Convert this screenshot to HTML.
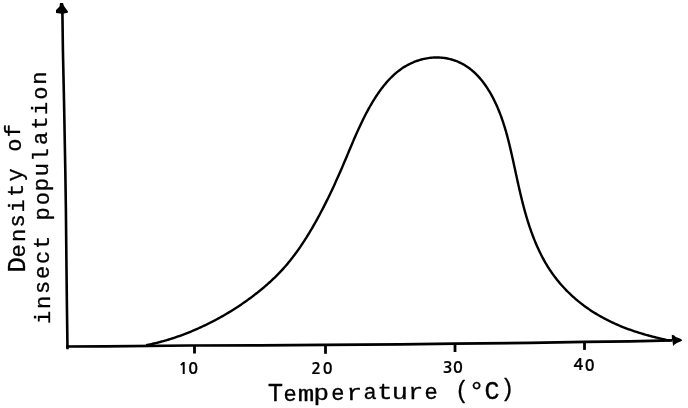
<!DOCTYPE html>
<html><head><meta charset="utf-8"><title>Density of insect population vs temperature</title><style>
html,body{margin:0;padding:0;background:#fff;}
svg{display:block;will-change:transform;}
.mono{font-family:"Liberation Mono",monospace;stroke:#000;stroke-width:0.3px;stroke-linejoin:round;}
</style></head><body>
<svg width="688" height="408" viewBox="0 0 688 408">
<rect width="688" height="408" fill="#fff"/>
<g fill="none" stroke="#000" stroke-linecap="butt" stroke-linejoin="round">
<path d="M62.4 12.0 L62.9 50.0 L64.0 100.0 L65.3 170.0 L65.9 210.0 L66.4 260.0 L66.9 305.0 L67.5 349.2" stroke-width="2.6"/>
<path d="M66.0 346.5 L105.0 346.3 L190.0 345.5 L260.0 345.3 L325.0 344.8 L400.0 344.3 L455.0 343.7 L530.0 342.8 L585.0 341.9 L630.0 341.3 L672.0 340.4" stroke-width="2.7"/>
<path d="M145.98 345.18 L147.35 344.92 L148.71 344.64 L150.08 344.36 L151.44 344.07 L152.79 343.77 L154.15 343.46 L155.50 343.14 L156.85 342.81 L158.19 342.48 L159.54 342.14 L160.88 341.78 L162.22 341.42 L163.55 341.06 L164.89 340.68 L166.22 340.29 L167.54 339.90 L168.87 339.50 L170.19 339.09 L171.51 338.68 L172.83 338.25 L174.14 337.82 L175.46 337.38 L176.77 336.93 L178.07 336.48 L179.38 336.02 L180.68 335.55 L181.98 335.07 L183.28 334.59 L184.57 334.10 L185.86 333.60 L187.15 333.10 L188.44 332.59 L189.72 332.07 L191.00 331.54 L192.28 331.01 L193.55 330.47 L194.83 329.93 L196.10 329.37 L197.36 328.82 L198.63 328.25 L199.89 327.68 L201.15 327.10 L202.41 326.52 L203.66 325.93 L204.91 325.34 L206.16 324.73 L207.40 324.13 L208.65 323.51 L209.89 322.89 L211.12 322.26 L212.36 321.63 L213.59 320.99 L214.82 320.35 L216.04 319.70 L217.26 319.04 L218.48 318.38 L219.69 317.71 L220.91 317.04 L222.12 316.36 L223.32 315.67 L224.52 314.98 L225.72 314.28 L226.92 313.57 L228.11 312.86 L229.30 312.15 L230.48 311.42 L231.66 310.70 L232.84 309.96 L234.01 309.22 L235.18 308.48 L236.35 307.72 L237.51 306.97 L238.67 306.20 L239.83 305.43 L240.98 304.66 L242.12 303.88 L243.27 303.09 L244.41 302.30 L245.54 301.50 L246.67 300.70 L247.80 299.89 L248.93 299.08 L250.04 298.26 L251.16 297.43 L252.27 296.60 L253.38 295.76 L254.48 294.92 L255.58 294.07 L256.67 293.21 L257.76 292.35 L258.84 291.49 L259.92 290.62 L261.00 289.74 L262.07 288.86 L263.13 287.97 L264.19 287.07 L265.25 286.17 L266.29 285.26 L267.33 284.35 L268.37 283.43 L269.40 282.50 L270.42 281.57 L271.44 280.63 L272.45 279.68 L273.46 278.73 L274.45 277.77 L275.44 276.81 L276.43 275.83 L277.40 274.85 L278.37 273.87 L279.33 272.87 L280.28 271.87 L281.23 270.86 L282.17 269.85 L283.10 268.83 L284.02 267.80 L284.93 266.76 L285.84 265.72 L286.73 264.67 L287.62 263.61 L288.51 262.55 L289.38 261.48 L290.25 260.41 L291.11 259.32 L291.97 258.24 L292.81 257.14 L293.65 256.05 L294.49 254.94 L295.31 253.83 L296.13 252.72 L296.94 251.60 L297.75 250.47 L298.55 249.34 L299.35 248.20 L300.13 247.06 L300.92 245.92 L301.69 244.77 L302.46 243.62 L303.23 242.46 L303.99 241.30 L304.74 240.13 L305.49 238.96 L306.23 237.79 L306.97 236.61 L307.70 235.43 L308.43 234.25 L309.15 233.06 L309.87 231.87 L310.58 230.68 L311.29 229.49 L311.99 228.29 L312.69 227.09 L313.38 225.89 L314.07 224.68 L314.76 223.47 L315.44 222.26 L316.12 221.05 L316.79 219.84 L317.46 218.62 L318.13 217.40 L318.79 216.18 L319.45 214.96 L320.10 213.74 L320.75 212.51 L321.40 211.29 L322.04 210.06 L322.68 208.83 L323.32 207.59 L323.95 206.36 L324.58 205.12 L325.21 203.88 L325.83 202.65 L326.45 201.40 L327.07 200.16 L327.68 198.92 L328.29 197.67 L328.90 196.42 L329.50 195.18 L330.10 193.93 L330.70 192.67 L331.30 191.42 L331.89 190.17 L332.48 188.91 L333.06 187.65 L333.65 186.40 L334.23 185.14 L334.81 183.88 L335.38 182.62 L335.96 181.35 L336.53 180.09 L337.10 178.82 L337.67 177.56 L338.23 176.29 L338.79 175.02 L339.35 173.76 L339.91 172.49 L340.47 171.22 L341.02 169.94 L341.57 168.67 L342.12 167.40 L342.67 166.13 L343.21 164.85 L343.76 163.58 L344.30 162.30 L344.84 161.03 L345.38 159.75 L345.92 158.47 L346.46 157.20 L346.99 155.92 L347.53 154.64 L348.06 153.36 L348.60 152.09 L349.14 150.81 L349.67 149.53 L350.21 148.26 L350.75 146.98 L351.28 145.71 L351.82 144.43 L352.36 143.16 L352.91 141.88 L353.45 140.61 L354.00 139.34 L354.55 138.07 L355.10 136.80 L355.65 135.53 L356.21 134.27 L356.77 133.00 L357.34 131.74 L357.90 130.48 L358.48 129.22 L359.05 127.96 L359.63 126.71 L360.22 125.46 L360.81 124.21 L361.40 122.96 L362.00 121.71 L362.60 120.47 L363.21 119.23 L363.83 117.99 L364.45 116.75 L365.08 115.52 L365.72 114.29 L366.36 113.06 L367.01 111.84 L367.67 110.62 L368.33 109.40 L369.00 108.19 L369.68 106.98 L370.37 105.77 L371.06 104.57 L371.77 103.37 L372.48 102.18 L373.20 100.99 L373.93 99.80 L374.67 98.62 L375.42 97.44 L376.18 96.27 L376.96 95.10 L377.74 93.94 L378.53 92.79 L379.33 91.65 L380.14 90.51 L380.97 89.38 L381.80 88.27 L382.65 87.16 L383.51 86.06 L384.39 84.98 L385.27 83.91 L386.17 82.85 L387.08 81.80 L388.00 80.77 L388.94 79.75 L389.90 78.75 L390.86 77.76 L391.84 76.79 L392.84 75.83 L393.85 74.90 L394.87 73.98 L395.91 73.08 L396.97 72.20 L398.04 71.34 L399.13 70.50 L400.23 69.68 L401.35 68.88 L402.49 68.11 L403.65 67.35 L404.82 66.63 L406.01 65.92 L407.21 65.24 L408.44 64.59 L409.68 63.96 L410.93 63.36 L412.20 62.78 L413.48 62.23 L414.78 61.71 L416.08 61.22 L417.40 60.75 L418.73 60.31 L420.06 59.91 L421.41 59.53 L422.76 59.18 L424.12 58.86 L425.49 58.58 L426.86 58.32 L428.24 58.10 L429.62 57.91 L431.00 57.75 L432.38 57.62 L433.77 57.53 L435.16 57.48 L436.54 57.45 L437.93 57.46 L439.31 57.51 L440.69 57.60 L442.07 57.71 L443.44 57.87 L444.81 58.05 L446.17 58.27 L447.52 58.53 L448.87 58.82 L450.20 59.14 L451.53 59.49 L452.84 59.88 L454.15 60.30 L455.44 60.75 L456.71 61.23 L457.98 61.75 L459.23 62.29 L460.46 62.87 L461.67 63.48 L462.87 64.11 L464.05 64.78 L465.20 65.48 L466.35 66.20 L467.47 66.95 L468.58 67.73 L469.66 68.54 L470.73 69.37 L471.79 70.22 L472.82 71.10 L473.84 72.01 L474.84 72.93 L475.82 73.88 L476.79 74.85 L477.74 75.84 L478.68 76.85 L479.60 77.88 L480.50 78.93 L481.38 79.99 L482.25 81.08 L483.11 82.18 L483.95 83.29 L484.77 84.43 L485.58 85.57 L486.37 86.73 L487.15 87.90 L487.91 89.09 L488.66 90.28 L489.40 91.49 L490.12 92.71 L490.82 93.93 L491.51 95.17 L492.19 96.41 L492.85 97.67 L493.50 98.92 L494.14 100.19 L494.76 101.46 L495.37 102.73 L495.97 104.01 L496.55 105.29 L497.13 106.58 L497.68 107.87 L498.23 109.16 L498.77 110.45 L499.29 111.74 L499.80 113.04 L500.30 114.34 L500.79 115.64 L501.27 116.95 L501.74 118.25 L502.20 119.56 L502.65 120.88 L503.09 122.19 L503.53 123.51 L503.95 124.82 L504.37 126.14 L504.77 127.46 L505.17 128.79 L505.56 130.11 L505.95 131.44 L506.33 132.77 L506.70 134.10 L507.06 135.43 L507.42 136.76 L507.77 138.10 L508.12 139.44 L508.46 140.77 L508.80 142.11 L509.13 143.45 L509.46 144.79 L509.78 146.14 L510.10 147.48 L510.42 148.83 L510.73 150.17 L511.04 151.52 L511.35 152.87 L511.66 154.21 L511.96 155.56 L512.26 156.91 L512.56 158.26 L512.86 159.61 L513.16 160.97 L513.46 162.32 L513.75 163.67 L514.05 165.02 L514.34 166.38 L514.63 167.73 L514.93 169.08 L515.22 170.44 L515.51 171.79 L515.81 173.15 L516.10 174.50 L516.39 175.86 L516.69 177.21 L516.99 178.57 L517.28 179.92 L517.58 181.27 L517.88 182.63 L518.18 183.98 L518.48 185.33 L518.79 186.69 L519.09 188.04 L519.40 189.39 L519.71 190.74 L520.03 192.09 L520.34 193.44 L520.66 194.79 L520.99 196.14 L521.31 197.49 L521.64 198.84 L521.97 200.18 L522.31 201.53 L522.65 202.87 L522.99 204.22 L523.34 205.56 L523.69 206.90 L524.05 208.24 L524.41 209.58 L524.78 210.92 L525.15 212.25 L525.53 213.59 L525.91 214.92 L526.29 216.25 L526.69 217.58 L527.09 218.91 L527.49 220.24 L527.90 221.56 L528.32 222.89 L528.75 224.21 L529.18 225.53 L529.61 226.85 L530.06 228.16 L530.51 229.48 L530.97 230.79 L531.44 232.10 L531.91 233.40 L532.39 234.70 L532.88 236.00 L533.38 237.30 L533.88 238.59 L534.40 239.88 L534.92 241.17 L535.45 242.45 L535.99 243.72 L536.53 245.00 L537.09 246.27 L537.65 247.53 L538.23 248.79 L538.81 250.05 L539.40 251.30 L540.00 252.54 L540.62 253.78 L541.24 255.01 L541.87 256.24 L542.51 257.46 L543.16 258.68 L543.82 259.89 L544.49 261.10 L545.18 262.30 L545.87 263.49 L546.57 264.67 L547.29 265.85 L548.01 267.02 L548.75 268.19 L549.50 269.34 L550.26 270.49 L551.03 271.64 L551.81 272.77 L552.61 273.90 L553.42 275.02 L554.24 276.13 L555.07 277.23 L555.91 278.32 L556.76 279.41 L557.62 280.49 L558.50 281.56 L559.38 282.62 L560.28 283.67 L561.19 284.71 L562.11 285.75 L563.03 286.77 L563.97 287.79 L564.92 288.80 L565.88 289.80 L566.85 290.79 L567.82 291.77 L568.81 292.74 L569.81 293.71 L570.81 294.66 L571.83 295.60 L572.85 296.54 L573.89 297.46 L574.93 298.38 L575.98 299.29 L577.04 300.18 L578.10 301.07 L579.18 301.94 L580.26 302.81 L581.35 303.67 L582.45 304.51 L583.56 305.35 L584.67 306.17 L585.79 306.99 L586.92 307.79 L588.06 308.59 L589.20 309.37 L590.35 310.14 L591.51 310.91 L592.67 311.66 L593.84 312.40 L595.02 313.14 L596.20 313.86 L597.39 314.57 L598.58 315.27 L599.78 315.97 L600.99 316.65 L602.20 317.32 L603.41 317.98 L604.64 318.64 L605.86 319.28 L607.10 319.92 L608.33 320.54 L609.58 321.16 L610.82 321.76 L612.07 322.36 L613.33 322.94 L614.59 323.52 L615.85 324.09 L617.12 324.65 L618.39 325.20 L619.67 325.74 L620.95 326.27 L622.23 326.79 L623.52 327.31 L624.81 327.81 L626.10 328.31 L627.40 328.79 L628.70 329.27 L630.00 329.74 L631.31 330.20 L632.62 330.66 L633.93 331.10 L635.24 331.54 L636.55 331.97 L637.87 332.40 L639.19 332.81 L640.51 333.22 L641.84 333.62 L643.17 334.02 L644.49 334.41 L645.82 334.79 L647.16 335.16 L648.49 335.53 L649.82 335.89 L651.16 336.25 L652.50 336.60 L653.84 336.95 L655.18 337.28 L656.52 337.62 L657.86 337.95 L659.20 338.27 L660.55 338.59 L661.89 338.90 L663.23 339.21 L664.58 339.51 L665.93 339.81 L667.27 340.10 L668.62 340.39 L669.96 340.68" stroke-width="2.4"/>
<g stroke-width="2.8"><line x1="194.5" y1="345.6" x2="194.5" y2="353.5"/><line x1="325.5" y1="344.8" x2="325.5" y2="353.8"/><line x1="455.0" y1="343.7" x2="455.0" y2="352.0"/><line x1="584.5" y1="341.9" x2="584.5" y2="349.9"/></g>
</g>
<g fill="#000">
<polygon points="60,3 63,3 64,6 68,11.5 67.7,12.8 64,13.5 62,14 60,13.5 56,13 56,10 59.5,6.5"/>
<polygon points="671.8,334.8 674,335.2 675.8,336.9 678.7,338.1 681,339.1 682.3,340.4 680.5,341.6 676.9,343.1 674.6,344.4 673.2,345.9 672.6,342.5 671.9,339"/>
</g>
<g font-family="NanumGothic, 'Liberation Sans', sans-serif" font-weight="bold" font-size="16.2" fill="#000" stroke="#000" stroke-width="0.2" stroke-linejoin="round"><text><tspan x="178.49" y="373.90">1</tspan><tspan x="188.14" y="373.80">0</tspan></text><text><tspan x="311.26" y="373.60">2</tspan><tspan x="322.64" y="373.50">0</tspan></text><text><tspan x="442.87" y="373.10">3</tspan><tspan x="453.04" y="372.90">0</tspan></text><text><tspan x="573.40" y="370.30">4</tspan><tspan x="584.74" y="370.60">0</tspan></text></g>
<g fill="#000">
<text class="mono"><tspan x="267.85" y="400.90" font-size="25.50">T</tspan><tspan x="283.41" y="400.90" font-size="22.00">e</tspan><tspan x="297.77" y="400.74" font-size="22.00" textLength="16.54" lengthAdjust="spacingAndGlyphs">m</tspan><tspan x="313.49" y="400.33" font-size="22.00" textLength="15.51" lengthAdjust="spacingAndGlyphs">p</tspan><tspan x="331.21" y="399.91" font-size="22.00">e</tspan><tspan x="346.43" y="399.55" font-size="22.00" textLength="15.61" lengthAdjust="spacingAndGlyphs">r</tspan><tspan x="363.58" y="399.21" font-size="22.00">a</tspan><tspan x="377.60" y="398.90" font-size="22.00" textLength="14.86" lengthAdjust="spacingAndGlyphs">t</tspan><tspan x="391.88" y="398.87" font-size="22.00" textLength="16.10" lengthAdjust="spacingAndGlyphs">u</tspan><tspan x="408.15" y="398.83" font-size="22.00" textLength="15.00" lengthAdjust="spacingAndGlyphs">r</tspan><tspan x="424.41" y="398.80" font-size="22.00">e</tspan> <tspan x="455.08" y="397.65" font-size="23.00">(</tspan><tspan x="468.51" y="400.35" font-size="27.00">°</tspan><tspan x="484.44" y="398.70" font-size="25.00">C</tspan><tspan x="500.44" y="396.30" font-size="23.00">)</tspan></text>
<text class="mono" transform="rotate(-90)"><tspan x="-272.51" y="24.80" font-size="25.50">D</tspan><tspan x="-257.59" y="24.80" font-size="22.00">e</tspan><tspan x="-242.00" y="24.70" font-size="22.00">n</tspan><tspan x="-227.59" y="24.10" font-size="22.00">s</tspan><tspan x="-212.41" y="23.70" font-size="22.00">i</tspan><tspan x="-196.98" y="22.80" font-size="22.00">t</tspan><tspan x="-181.59" y="22.20" font-size="22.00">y</tspan> <tspan x="-151.69" y="21.00" font-size="22.00">o</tspan><tspan x="-137.14" y="20.40" font-size="22.00">f</tspan></text><text class="mono" transform="rotate(-90)"><tspan x="-324.11" y="49.50" font-size="22.00">i</tspan><tspan x="-308.96" y="49.50" font-size="22.00">n</tspan><tspan x="-294.01" y="49.00" font-size="22.00">s</tspan><tspan x="-279.07" y="49.00" font-size="22.00">e</tspan><tspan x="-264.04" y="49.20" font-size="22.00">c</tspan><tspan x="-249.08" y="49.20" font-size="22.00">t</tspan> <tspan x="-220.62" y="48.90" font-size="22.00">p</tspan><tspan x="-205.19" y="48.70" font-size="22.00">o</tspan><tspan x="-191.32" y="47.90" font-size="22.00">p</tspan><tspan x="-176.16" y="47.90" font-size="22.00">u</tspan><tspan x="-161.43" y="47.90" font-size="22.00">l</tspan><tspan x="-144.94" y="46.90" font-size="22.00">a</tspan><tspan x="-129.56" y="46.90" font-size="22.00">t</tspan><tspan x="-114.95" y="46.90" font-size="22.00">i</tspan><tspan x="-99.79" y="46.50" font-size="22.00">o</tspan><tspan x="-84.86" y="46.10" font-size="22.00">n</tspan></text>
</g>
</svg>
</body></html>
